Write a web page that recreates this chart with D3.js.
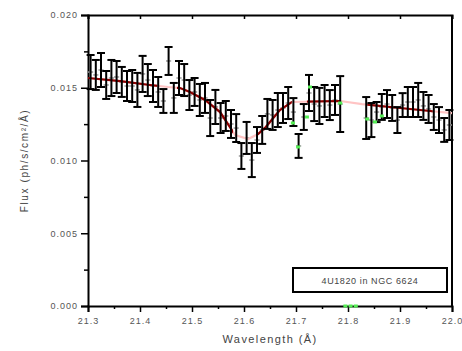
<!DOCTYPE html>
<html>
<head>
<meta charset="utf-8">
<script src="https://cdn.jsdelivr.net/npm/d3@7"></script>
<style>
  body { margin: 0; background: #fff; }
  text { font-family: Arial, "Liberation Sans", sans-serif; fill: #444; }
</style>
</head>
<body>
<svg id="chart" width="462" height="351"></svg>
<script>
// observed spectrum, 0.01 A bins (null = no data)
const wavelength = [21.305, 21.315, 21.325, 21.335, 21.345, 21.355, 21.365, 21.375, 21.385, 21.395,
  21.405, 21.415, 21.425, 21.435, 21.445, 21.455, 21.465, 21.475, 21.485, 21.495,
  21.505, 21.515, 21.525, 21.535, 21.545, 21.555, 21.565, 21.575, 21.585, 21.595,
  21.605, 21.615, 21.625, 21.635, 21.645, 21.655, 21.665, 21.675, 21.685, 21.695,
  21.705, 21.715, 21.725, 21.735, 21.745, 21.755, 21.765, 21.775, 21.785, 21.795,
  21.805, 21.815, 21.825, 21.835, 21.845, 21.855, 21.865, 21.875, 21.885, 21.895,
  21.905, 21.915, 21.925, 21.935, 21.945, 21.955, 21.965, 21.975, 21.985, 21.995];
const flux = [0.01608, 0.01588, 0.01622, 0.01519, 0.01567, 0.01574, 0.01540, 0.01512, 0.01512, 0.01485,
  0.01595, 0.01553, 0.01512, 0.01471, 0.01409, 0.01684, 0.01430, 0.01567, 0.01553, 0.01450,
  0.01471, 0.01416, 0.01430, 0.01292, 0.01368, 0.01292, 0.01306, 0.01251, 0.01223, 0.01031,
  0.01155, 0.01003, 0.01141, 0.01210, 0.01320, 0.01313, 0.01347, 0.01361, 0.01395, 0.01333,
  0.01100, 0.01299, 0.01464, 0.01388, 0.01375, 0.01409, 0.01381, 0.01416, 0.01388, null,
  null, null, null, 0.01292, 0.01278, 0.01333, 0.01368, 0.01388, 0.01361, 0.01278,
  0.01381, 0.01402, 0.01402, 0.01416, 0.01375, 0.01354, 0.01299, 0.01278, 0.01210, 0.01244];
const fluxErr = [0.00117, 0.00103, 0.00117, 0.00096, 0.00124, 0.00110, 0.00103, 0.00103, 0.00110, 0.00117,
  0.00124, 0.00110, 0.00110, 0.00103, 0.00082, 0.00096, 0.00103, 0.00117, 0.00110, 0.00103,
  0.00096, 0.00110, 0.00103, 0.00124, 0.00117, 0.00103, 0.00103, 0.00096, 0.00096, 0.00089,
  0.00110, 0.00117, 0.00089, 0.00096, 0.00103, 0.00103, 0.00117, 0.00103, 0.00110, 0.00096,
  0.00082, 0.00089, 0.00124, 0.00117, 0.00124, 0.00110, 0.00103, 0.00103, 0.00192, null,
  null, null, null, 0.00144, 0.00117, 0.00069, 0.00089, 0.00096, 0.00089, 0.00089,
  0.00082, 0.00103, 0.00103, 0.00117, 0.00096, 0.00096, 0.00089, 0.00089, 0.00082, 0.00103];
const binHalf = 0.005;

// second data set (green points)
const greenWave = [21.694, 21.704, 21.721, 21.727, 21.785, 21.795, 21.805, 21.815, 21.837, 21.852, 21.865];
const greenFlux = [0.01258, 0.01093, 0.01299, 0.01505, 0.01395, 0, 0, 0, 0.01285, 0.01265, 0.01306];

// model curve
const modelWave = [21.30, 21.362, 21.419, 21.454, 21.477, 21.496, 21.525, 21.554, 21.583, 21.608,
  21.627, 21.642, 21.669, 21.692, 21.785, 21.827, 21.90, 21.958, 22.0];
const modelFlux = [0.01567, 0.01546, 0.01519, 0.01505, 0.01498, 0.01471, 0.01416, 0.01333, 0.01175, 0.01148,
  0.01182, 0.01230, 0.01347, 0.01402, 0.01409, 0.01388, 0.01361, 0.01340, 0.01326];
const modelDark = [[21.30, 21.433], [21.471, 21.579], [21.625, 21.692], [21.721, 21.785], [21.837, 21.963]];

const xMajor = [21.3, 21.4, 21.5, 21.6, 21.7, 21.8, 21.9, 22.0];
const xLabels = ['21.3', '21.4', '21.5', '21.6', '21.7', '21.8', '21.9', '22.0'];
const yMajor = [0, 0.005, 0.010, 0.015, 0.020];
const yLabels = ['0.000', '0.005', '0.010', '0.015', '0.020'];
const legendText = '4U1820 in NGC 6624';

const svg = d3.select('#chart');
const margin = {top: 15, right: 10, bottom: 45, left: 88};
const width = +svg.attr('width') - margin.left - margin.right;
const height = +svg.attr('height') - margin.top - margin.bottom;
const g = svg.append('g').attr('transform', 'translate(' + margin.left + ',' + margin.top + ')');

const x = d3.scaleLinear().domain([21.3, 22.0]).range([0, width]);
const y = d3.scaleLinear().domain([0, 0.02]).range([height, 0]);

const xMinor = d3.range(21.35, 22.0, 0.1);
const yMinor = d3.range(0.0025, 0.02, 0.005);

// bottom axis
const xa = g.append('g').attr('transform', 'translate(0,' + height + ')')
  .call(d3.axisBottom(x).tickValues(xMajor).tickSize(6).tickPadding(6)
    .tickFormat((d, i) => xLabels[i]));
xa.append('g').call(d3.axisBottom(x).tickValues(xMinor).tickSize(3).tickFormat(''))
  .select('.domain').remove();
// left axis
const ya = g.append('g')
  .call(d3.axisLeft(y).tickValues(yMajor).tickSize(7).tickPadding(3)
    .tickFormat((d, i) => yLabels[i]));
ya.append('g').call(d3.axisLeft(y).tickValues(yMinor).tickSize(4).tickFormat(''))
  .select('.domain').remove();
// top axis, ticks inward
g.append('g').call(d3.axisTop(x).tickValues(xMajor).tickSize(-4).tickFormat(''));
// right border
g.append('line').attr('x1', width).attr('x2', width).attr('y1', 0).attr('y2', height)
  .attr('stroke', '#000').attr('stroke-width', 2);

g.selectAll('.domain').attr('stroke', '#000').attr('stroke-width', 2);
g.selectAll('.tick line').attr('stroke', '#000').attr('stroke-width', 1.5);
g.selectAll('.tick text').attr('font-size', 9).attr('letter-spacing', 1).style('fill', '#555');

// axis titles
g.append('text').attr('x', width / 2).attr('y', height + 37).attr('text-anchor', 'middle')
  .attr('font-size', 11).attr('letter-spacing', 1.4).text('Wavelength (Å)');
g.append('text').attr('transform', 'translate(' + (-60) + ',' + (height / 2) + ') rotate(-90)')
  .attr('text-anchor', 'middle').attr('font-size', 10).attr('letter-spacing', 1.6)
  .text('Flux (ph/s/cm²/Å)');

// data
const pts = wavelength.map((w, i) => ({w: w, f: flux[i], e: fluxErr[i]})).filter(d => d.f !== null);

// bin width bars
g.selectAll('.bin').data(pts).enter().append('line')
  .attr('x1', d => x(d.w - binHalf)).attr('x2', d => x(d.w + binHalf))
  .attr('y1', d => y(d.f)).attr('y2', d => y(d.f))
  .attr('stroke', '#999').attr('stroke-width', 1.5);

// model
const line = d3.line().x(d => x(d[0])).y(d => y(d[1]));
const model = modelWave.map((w, i) => [w, modelFlux[i]]);
g.append('path').datum(model).attr('d', line).attr('fill', 'none')
  .attr('stroke', '#ffc4c4').attr('stroke-width', 2.2);
modelDark.forEach((r, i) => {
  svg.append('clipPath').attr('id', 'dk' + i).append('rect')
    .attr('x', x(r[0])).attr('width', x(r[1]) - x(r[0])).attr('y', 0).attr('height', height);
  g.append('path').datum(model).attr('d', line).attr('fill', 'none')
    .attr('clip-path', 'url(#dk' + i + ')')
    .attr('stroke', '#8b0000').attr('stroke-width', 2.2);
});

// error bars
const eb = g.selectAll('.err').data(pts).enter().append('g').attr('stroke', '#000').attr('stroke-width', 2);
eb.append('line').attr('x1', d => x(d.w)).attr('x2', d => x(d.w))
  .attr('y1', d => y(d.f - d.e)).attr('y2', d => y(d.f + d.e));
eb.append('line').attr('x1', d => x(d.w) - 4).attr('x2', d => x(d.w) + 4)
  .attr('y1', d => y(d.f + d.e)).attr('y2', d => y(d.f + d.e));
eb.append('line').attr('x1', d => x(d.w) - 4).attr('x2', d => x(d.w) + 4)
  .attr('y1', d => y(d.f - d.e)).attr('y2', d => y(d.f - d.e));

// green points
g.selectAll('.gp').data(greenWave).enter().append('rect')
  .attr('x', d => x(d) - 2).attr('y', (d, i) => y(greenFlux[i]) - 1.5)
  .attr('width', 4).attr('height', 3).attr('fill', '#55ee55');

// legend box
const lg = g.append('g').attr('transform', 'translate(' + (x(21.6) + 49) + ',' + (height - 38) + ')');
lg.append('rect').attr('width', 154).attr('height', 24).attr('fill', '#fff')
  .attr('stroke', '#000').attr('stroke-width', 2);
lg.append('text').attr('x', 77).attr('y', 15.5).attr('text-anchor', 'middle')
  .attr('font-size', 9).attr('letter-spacing', 0.6).text(legendText);
</script>
</body>
</html>
